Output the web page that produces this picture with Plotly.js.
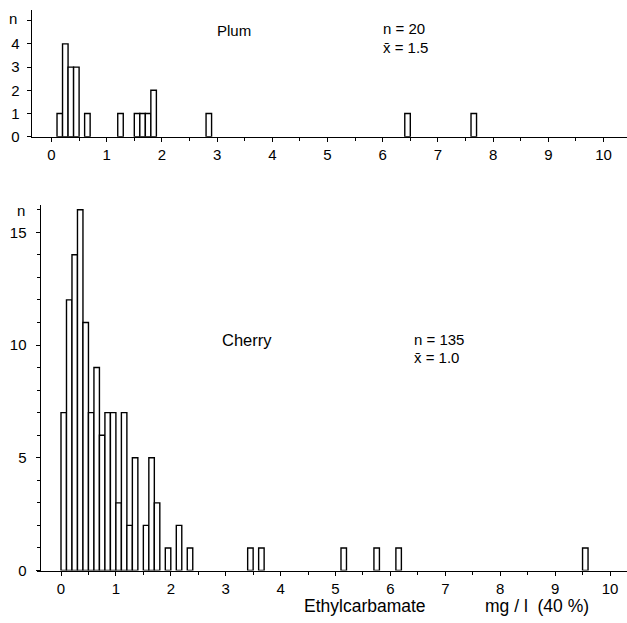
<!DOCTYPE html>
<html>
<head>
<meta charset="utf-8">
<script src="https://cdn.plot.ly/plotly-3.0.1.min.js"></script>
<style>html,body{margin:0;padding:0;background:#fff;}#chart{width:627px;height:623px;}</style>
</head>
<body>
<div id="chart"></div>
<script>
// Plum: lower edges of 0.1-wide bins and counts
const plumBins   = [0.1, 0.2, 0.3, 0.4, 0.6, 1.2, 1.5, 1.6, 1.7, 1.8, 2.8, 6.4, 7.6];
const plumCounts = [1,   4,   3,   3,   1,   1,   1,   1,   1,   2,   1,   1,   1];

// Cherry: lower edges of 0.1-wide bins and counts
const cherryBins   = [0.0, 0.1, 0.2, 0.3, 0.4, 0.5, 0.6, 0.7, 0.8, 0.9, 1.0, 1.1, 1.2, 1.3, 1.5, 1.6, 1.7, 1.9, 2.1, 2.3, 3.4, 3.6, 5.1, 5.7, 6.1, 9.5];
const cherryCounts = [7,   12,  14,  16,  11,  7,   9,   6,   7,   7,   3,   7,   2,   5,   2,   5,   3,   1,   2,   1,   1,   1,   1,   1,   1,   1];

const xTicks = [0,1,2,3,4,5,6,7,8,9,10];
const xMinorTicks = [0.5,1.5,2.5,3.5,4.5,5.5,6.5,7.5,8.5,9.5];
const plumYTicks = [0,1,2,3,4,5];
const plumYLabels = ['0','1','2','3','4',''];
const cherryYTicks = [0,5,10,15];

const W = 627, H = 623;
const FONT = {family: 'Liberation Sans, Arial, sans-serif', size: 15, color: '#000'};
const BIG = {family: 'Liberation Sans, Arial, sans-serif', size: 17.5, color: '#000'};

const barStyle = {color: '#fff', line: {color: '#000', width: 1.4}};

const traces = [
  {type: 'bar', x: plumBins, y: plumCounts, width: 0.1, offset: 0, marker: barStyle,
   xaxis: 'x', yaxis: 'y', hoverinfo: 'x+y'},
  {type: 'bar', x: cherryBins, y: cherryCounts, width: 0.1, offset: 0, marker: barStyle,
   xaxis: 'x2', yaxis: 'y2', hoverinfo: 'x+y'}
];

const axisCommon = {
  showline: true, linecolor: '#000', linewidth: 1.3,
  showgrid: false, zeroline: false,
  ticks: 'outside', ticklen: 4, tickwidth: 1, tickcolor: '#000',
  tickfont: FONT, fixedrange: true
};

// pixel helpers
const px = v => v / W;
const py = v => (H - v) / H;

function note(text, x, y, xanchor, font) {
  return {text: text, x: px(x), y: py(y), xref: 'paper', yref: 'paper',
          xanchor: xanchor || 'center', yanchor: 'middle', showarrow: false, font: font || FONT};
}

const layout = {
  width: W, height: H,
  margin: {l: 0, r: 0, t: 0, b: 0},
  paper_bgcolor: '#fff', plot_bgcolor: 'rgba(0,0,0,0)',
  showlegend: false, bargap: 0,
  font: FONT,
  xaxis: Object.assign({}, axisCommon, {
    domain: [px(32), 1], anchor: 'y',
    range: [(32 - 51.5) / 55.2, (627 - 51.5) / 55.2],
    tickvals: xTicks,
    minor: {tickvals: xMinorTicks, ticks: 'outside', ticklen: 3, tickcolor: '#000'}
  }),
  yaxis: Object.assign({}, axisCommon, {
    domain: [py(136.7), py(10)], anchor: 'x',
    range: [0, (136.7 - 10) / 23.2],
    tickvals: plumYTicks, ticktext: plumYLabels,
    ticklabelstandoff: 4
  }),
  xaxis2: Object.assign({}, axisCommon, {
    domain: [px(37), 1], anchor: 'y2',
    range: [(37 - 61) / 54.9, (627 - 61) / 54.9],
    tickvals: xTicks,
    minor: {tickvals: xMinorTicks, ticks: 'outside', ticklen: 3, tickcolor: '#000'}
  }),
  yaxis2: Object.assign({}, axisCommon, {
    domain: [py(570.5), py(205)], anchor: 'free', position: px(39.5),
    range: [0, (570.5 - 205) / 22.55],
    tickvals: cherryYTicks,
    ticklabelstandoff: 6,
    minor: {dtick: 1, tick0: 0, ticks: 'outside', ticklen: 3, tickcolor: '#000'}
  }),
  annotations: [
    note('n', 13, 18),
    note('Plum', 234, 31),
    note('n = 20', 381, 29, 'left'),
    note('x\u0304 = 1.5', 381, 48, 'left'),
    note('n', 21, 210),
    note('Cherry', 247, 340, 'center', {family: FONT.family, size: 16.5, color: '#000'}),
    note('n = 135', 412, 340, 'left'),
    note('x\u0304 = 1.0', 412, 358, 'left'),
    note('Ethylcarbamate', 365, 606, 'center', BIG),
    note('mg / l  (40 %)', 537, 606, 'center', BIG)
  ]
};

Plotly.newPlot('chart', traces, layout, {displayModeBar: false, staticPlot: true});
</script>
</body>
</html>
